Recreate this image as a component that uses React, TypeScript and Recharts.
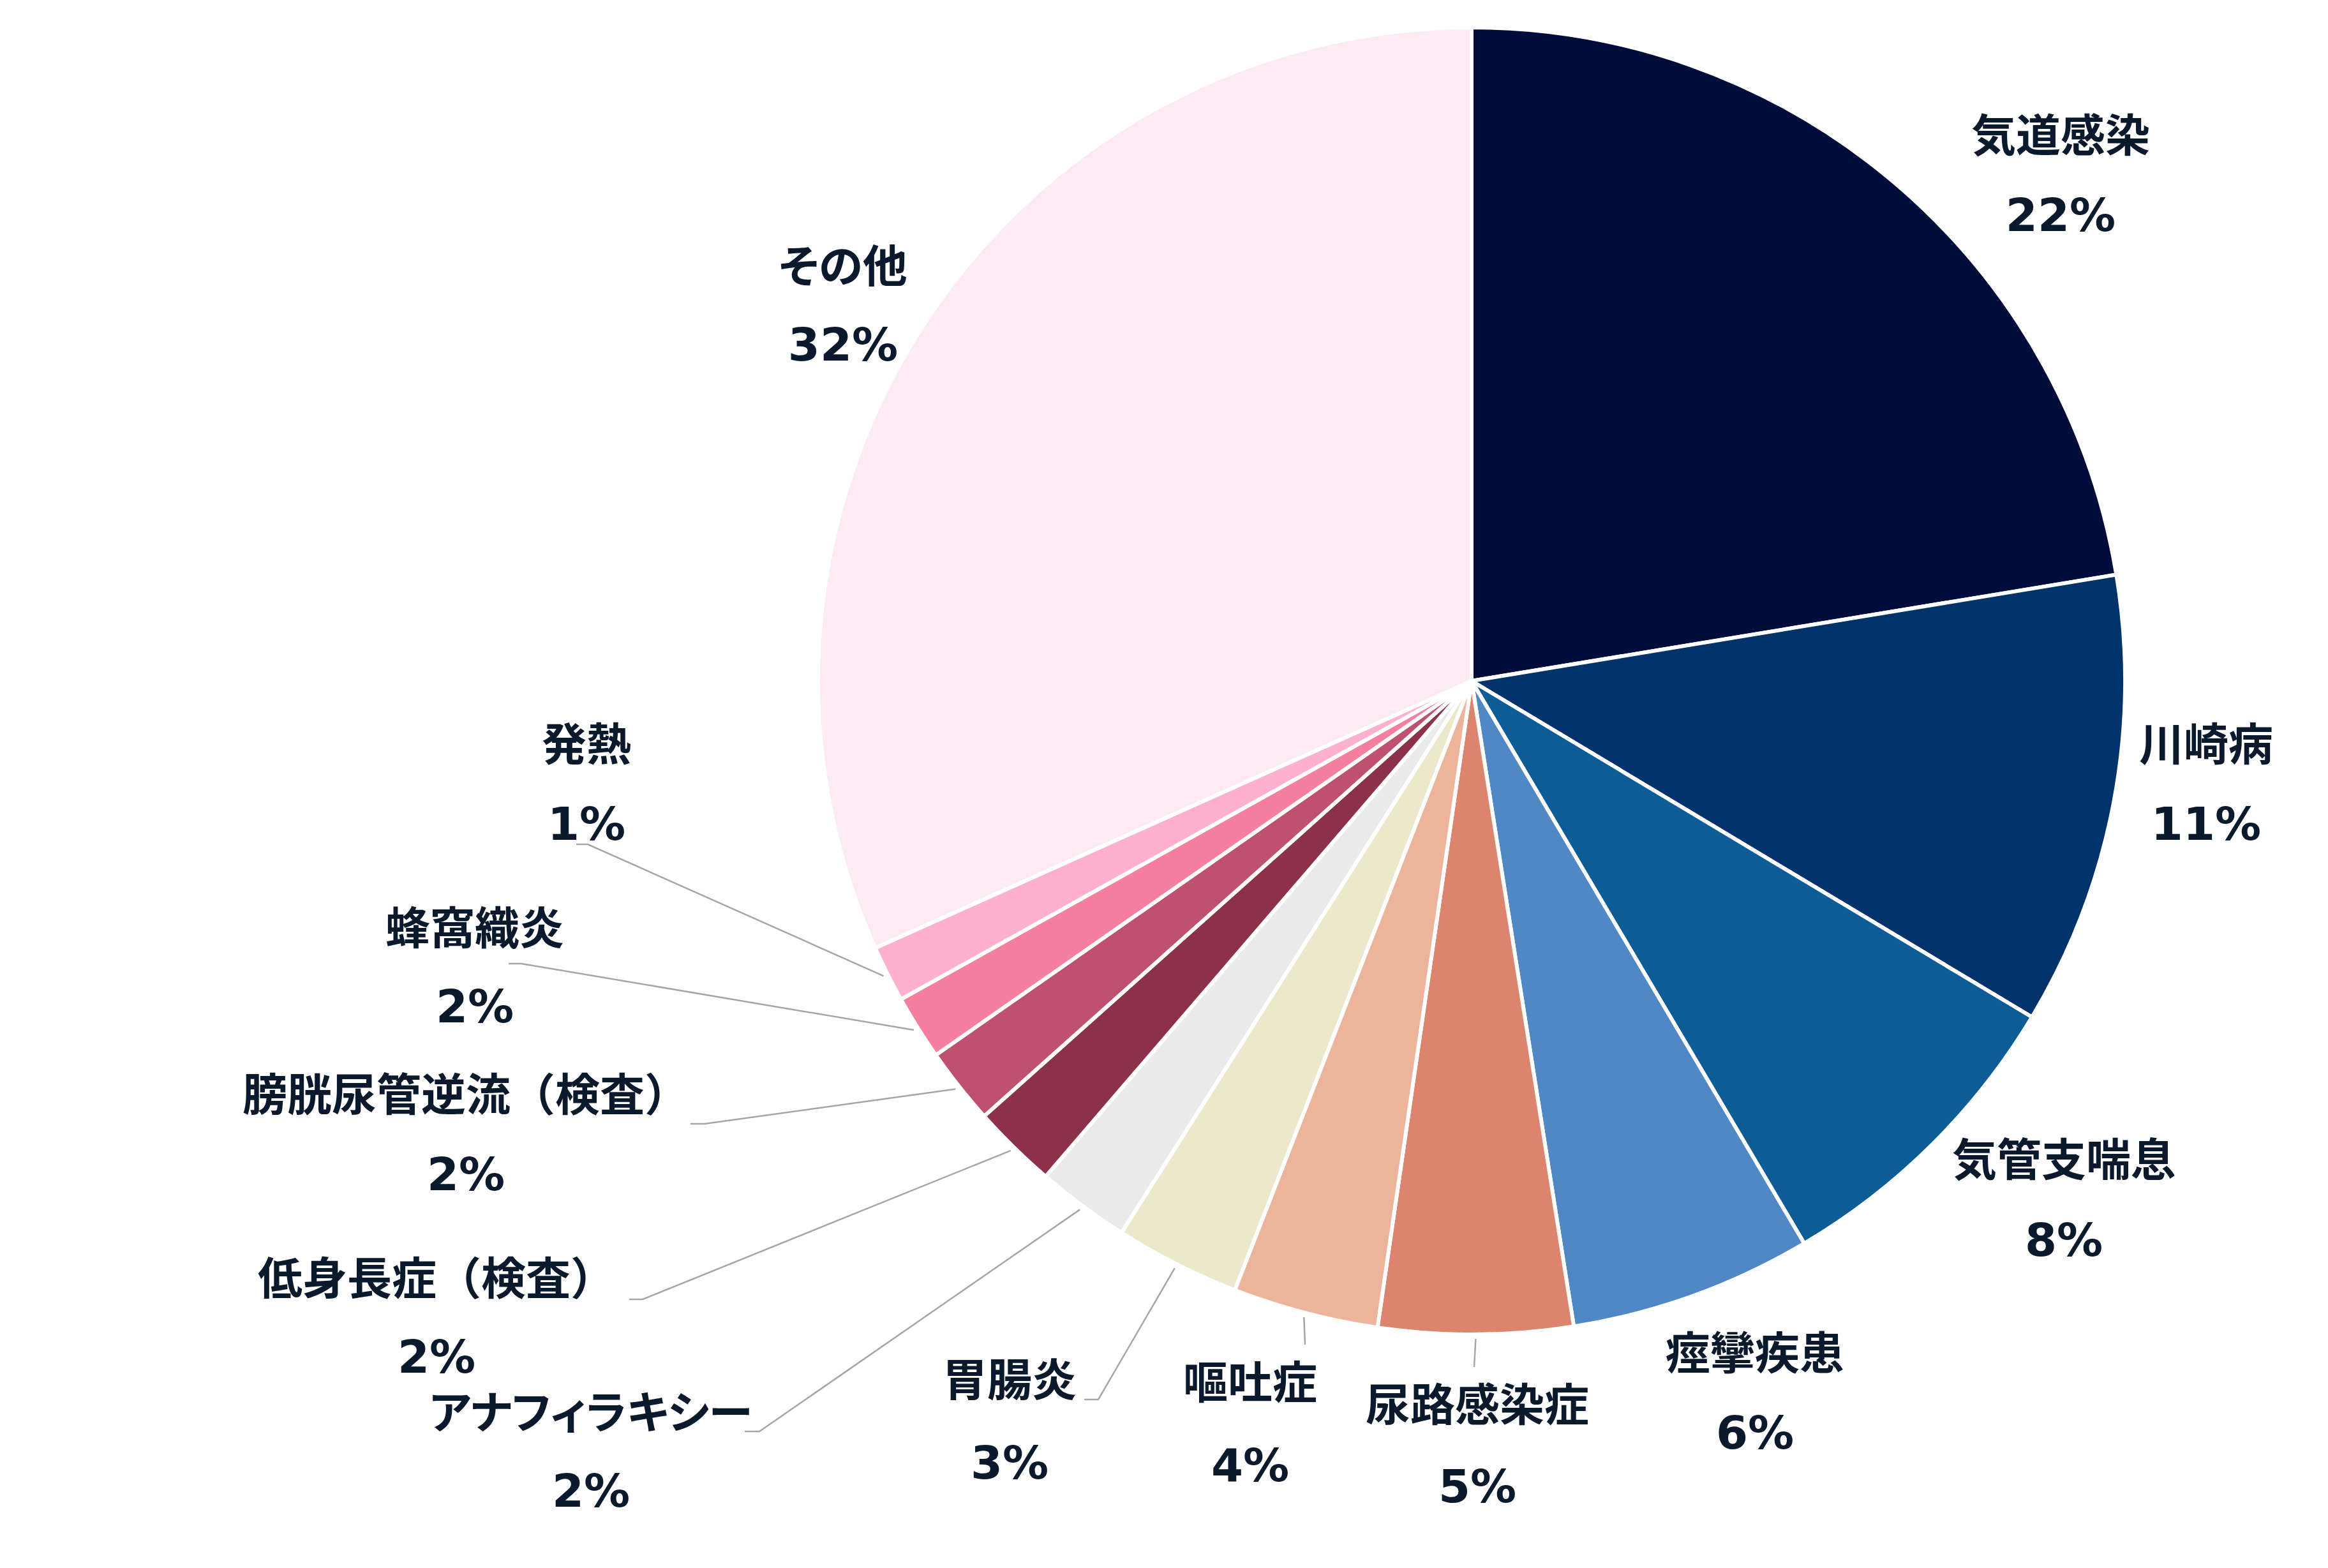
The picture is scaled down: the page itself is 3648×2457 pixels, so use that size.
import { PieChart, Pie, Cell } from 'recharts';

const W = 3648;
const H = 2457;
const CX = 2306;
const CY = 1067;

const NAMES = [
  '気道感染',
  '川崎病',
  '気管支喘息',
  '痙攣疾患',
  '尿路感染症',
  '嘔吐症',
  '胃腸炎',
  'アナフィラキシー',
  '低身長症（検査）',
  '膀胱尿管逆流（検査）',
  '蜂窩織炎',
  '発熱',
  'その他',
];

// share of cases (%)
const VALUES = [22.4, 11.2, 7.9, 6.0, 4.8, 3.6, 3.1, 2.3, 2.1, 1.9, 1.6, 1.4, 31.7];

const COLORS = [
  '#000D3B',
  '#00336A',
  '#0E5C96',
  '#5088C6',
  '#DC846D',
  '#EBB49B',
  '#EBE8CC',
  '#EBEBEB',
  '#8B3249',
  '#BE5170',
  '#F47F9E',
  '#FEB1CE',
  '#FDEBF3',
];

// label placement relative to the pie centre: [x, nameY, pctY]
const LABEL_POS = [
  [923, -853, -730],
  [1151, 101, 224],
  [928, 752, 876],
  [444, 1055, 1178],
  [9, 1136, 1262],
  [-347, 1101, 1229],
  [-724, 1097, 1225],
  [-1380, 1148, 1269],
  [-1622, 938, 1059],
  [-1576, 650, 773],
  [-1562, 389, 510],
  [-1387, 101, 224],
  [-985, -648, -527],
];

// leader lines: [elbowX, elbowY, endX] relative to centre, null = no line
const LEADERS: (number[] | null)[] = [
  null,
  null,
  null,
  null,
  [4, 1075, 4],
  [-261, 1040, -261],
  [-585, 1126, -607],
  [-1116, 1176, -1139],
  [-1299, 969, -1320],
  [-1202, 694, -1224],
  [-1489, 443, -1509],
  [-1385, 256, -1403],
  null,
];

const data = NAMES.map((name, i) => ({ name, value: VALUES[i] }));

const TEXT_COLOR = '#0B192C';
const FONT = "'DejaVu Sans', 'Noto Sans CJK JP', sans-serif";
const RAD = Math.PI / 180;

const renderLabel = (props: any) => {
  const { cx, cy, midAngle, index, percent } = props;
  const pos = LABEL_POS[index];
  const lead = LEADERS[index];
  const pct = `${Math.round(percent * 100)}%`;
  // kana set proportionally, like the original's font
  const kana = /[ぁ-んァ-ヶー]/.test(NAMES[index]);
  let line = null;
  if (lead) {
    const r = 1031;
    const sx = cx + r * Math.cos(-midAngle * RAD);
    const sy = cy + r * Math.sin(-midAngle * RAD);
    line = (
      <polyline
        points={`${sx},${sy} ${cx + lead[0]},${cy + lead[1]} ${cx + lead[2]},${cy + lead[1]}`}
        fill="none"
        stroke="#A6A6A6"
        strokeWidth={2.5}
      />
    );
  }
  return (
    <g key={`lbl-${index}`}>
      {line}
      <text
        x={cx + pos[0]}
        y={cy + pos[1]}
        textAnchor="middle"
        dominantBaseline="central"
        fill={TEXT_COLOR}
        fontFamily={FONT}
        fontWeight="bold"
        fontSize={70}
        style={kana ? { fontFeatureSettings: '"palt"' } : undefined}
      >
        {NAMES[index]}
      </text>
      <text
        x={cx + pos[0]}
        y={cy + pos[2]}
        textAnchor="middle"
        dominantBaseline="central"
        fill={TEXT_COLOR}
        fontFamily={FONT}
        fontWeight="bold"
        fontSize={72}
      >
        {pct}
      </text>
    </g>
  );
};

export default function App() {
  return (
    <div style={{ position: 'absolute', left: 0, top: 0, width: W, height: H, background: '#fff' }}>
      <PieChart width={W} height={H} margin={{ top: 0, right: 0, bottom: 0, left: 0 }}>
        <Pie
          data={data}
          dataKey="value"
          nameKey="name"
          cx={CX}
          cy={CY}
          outerRadius={1024}
          startAngle={90}
          endAngle={-270}
          stroke="#ffffff"
          strokeWidth={6}
          label={renderLabel}
          labelLine={false}
          isAnimationActive={false}
        >
          {data.map((d, i) => (
            <Cell key={d.name} fill={COLORS[i]} />
          ))}
        </Pie>
      </PieChart>
    </div>
  );
}
